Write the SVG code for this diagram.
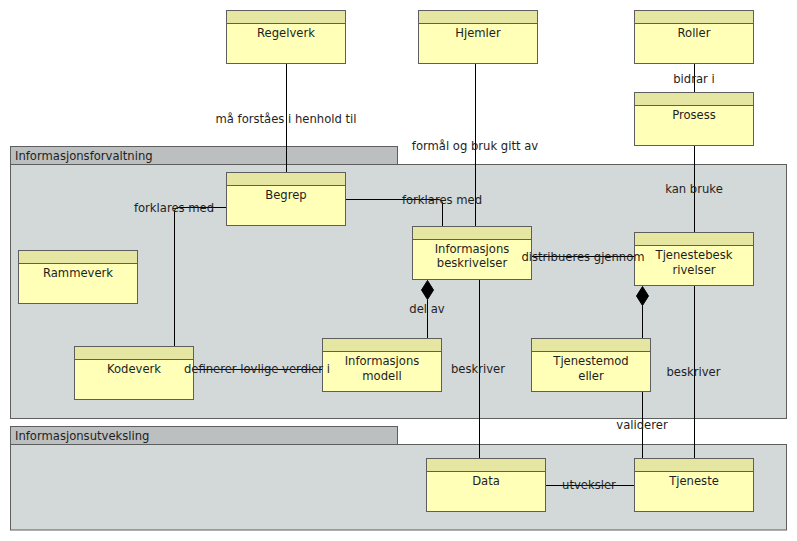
<svg xmlns="http://www.w3.org/2000/svg" width="797" height="541" viewBox="0 0 797 541">
<style>
text{font-family:"DejaVu Sans","Liberation Sans",sans-serif;font-size:11.6px;fill:#1e1e1e}
.c{text-anchor:middle}
.pkh{fill:#bcbfbf;stroke:#5e5e5e;stroke-width:1}
.pkb{fill:#d3d8d8;stroke:#5e5e5e;stroke-width:1}
.nb{fill:#ffffb8;stroke:#5e5e5e;stroke-width:1}
.nh{fill:#e6e6a3;stroke:#5e5e5e;stroke-width:1}
.ln{fill:none;stroke:#000;stroke-width:1}
.dm{fill:#000;stroke:#000;stroke-width:1}
</style>
<rect width="797" height="541" fill="#fff"/>
<g id="pkg-informasjonsforvaltning">
<rect class="pkh" x="10.5" y="146.5" width="387" height="18"/>
<rect class="pkb" x="10.5" y="164.5" width="776" height="254"/>
<text x="15" y="160">Informasjonsforvaltning</text>
</g>
<g id="pkg-informasjonsutveksling">
<rect class="pkh" x="10.5" y="426.5" width="387" height="18"/>
<rect class="pkb" x="10.5" y="444.5" width="776" height="85.5"/>
<text x="15" y="440">Informasjonsutveksling</text>
</g>
<g id="connectors">
<path class="ln" d="M286.5,63.5V172.5"/>
<path class="ln" d="M475.5,63.5V226.5"/>
<path class="ln" d="M694.5,63.5V92.5"/>
<path class="ln" d="M694.5,145.5V232.5"/>
<path class="ln" d="M345.5,199.5H438Q442.5,199.5 442.5,204V226.5"/>
<path class="ln" d="M226.5,207.5H179Q174.5,207.5 174.5,212V346.5"/>
<path class="ln" d="M531.5,256.5H634.5"/>
<polygon class="dm" points="427.5,280.5 433.5,290 427.5,299.5 421.5,290"/>
<path class="ln" d="M427.5,299.5V338.5"/>
<polygon class="dm" points="642.5,286.5 648.5,296 642.5,305.5 636.5,296"/>
<path class="ln" d="M642.5,305.5V338.5"/>
<path class="ln" d="M193.5,369.5H322.5"/>
<path class="ln" d="M479.5,279.5V458.5"/>
<path class="ln" d="M642.5,391.5V458.5"/>
<path class="ln" d="M694.5,285.5V458.5"/>
<path class="ln" d="M545.5,485.5H634.5"/>
</g>
<g id="regelverk">
<rect class="nb" x="226.5" y="10.5" width="119" height="53"/>
<rect class="nh" x="226.5" y="10.5" width="119" height="13"/>
<text class="c" x="286" y="37">Regelverk</text>
</g>
<g id="hjemler">
<rect class="nb" x="418.5" y="10.5" width="119" height="53"/>
<rect class="nh" x="418.5" y="10.5" width="119" height="13"/>
<text class="c" x="478" y="37">Hjemler</text>
</g>
<g id="roller">
<rect class="nb" x="634.5" y="10.5" width="119" height="53"/>
<rect class="nh" x="634.5" y="10.5" width="119" height="13"/>
<text class="c" x="694" y="37">Roller</text>
</g>
<g id="prosess">
<rect class="nb" x="634.5" y="92.5" width="119" height="53"/>
<rect class="nh" x="634.5" y="92.5" width="119" height="13"/>
<text class="c" x="694" y="119">Prosess</text>
</g>
<g id="begrep">
<rect class="nb" x="226.5" y="172.5" width="119" height="53"/>
<rect class="nh" x="226.5" y="172.5" width="119" height="13"/>
<text class="c" x="286" y="198.5">Begrep</text>
</g>
<g id="informasjonsbeskrivelser">
<rect class="nb" x="412.5" y="226.5" width="119" height="53"/>
<rect class="nh" x="412.5" y="226.5" width="119" height="13"/>
<text class="c" x="472" y="252.5">Informasjons</text>
<text class="c" x="472" y="267">beskrivelser</text>
</g>
<g id="tjenestebeskrivelser">
<rect class="nb" x="634.5" y="232.5" width="119" height="53"/>
<rect class="nh" x="634.5" y="232.5" width="119" height="13"/>
<text class="c" x="694" y="259">Tjenestebesk</text>
<text class="c" x="694" y="273.5">rivelser</text>
</g>
<g id="rammeverk">
<rect class="nb" x="18.5" y="250.5" width="119" height="53"/>
<rect class="nh" x="18.5" y="250.5" width="119" height="13"/>
<text class="c" x="78" y="276.5">Rammeverk</text>
</g>
<g id="kodeverk">
<rect class="nb" x="74.5" y="346.5" width="119" height="53"/>
<rect class="nh" x="74.5" y="346.5" width="119" height="13"/>
<text class="c" x="134" y="372.5">Kodeverk</text>
</g>
<g id="informasjonsmodell">
<rect class="nb" x="322.5" y="338.5" width="119" height="53"/>
<rect class="nh" x="322.5" y="338.5" width="119" height="13"/>
<text class="c" x="382" y="365">Informasjons</text>
<text class="c" x="382" y="379.5">modell</text>
</g>
<g id="tjenestemodeller">
<rect class="nb" x="531.5" y="338.5" width="119" height="53"/>
<rect class="nh" x="531.5" y="338.5" width="119" height="13"/>
<text class="c" x="591" y="365">Tjenestemod</text>
<text class="c" x="591" y="379.5">eller</text>
</g>
<g id="data">
<rect class="nb" x="426.5" y="458.5" width="119" height="53"/>
<rect class="nh" x="426.5" y="458.5" width="119" height="13"/>
<text class="c" x="486" y="485">Data</text>
</g>
<g id="tjeneste">
<rect class="nb" x="634.5" y="458.5" width="119" height="53"/>
<rect class="nh" x="634.5" y="458.5" width="119" height="13"/>
<text class="c" x="694" y="485">Tjeneste</text>
</g>
<g id="connector-labels">
<text class="c" x="286" y="123">må forståes i henhold til</text>
<text class="c" x="475" y="150">formål og bruk gitt av</text>
<text class="c" x="694" y="83">bidrar i</text>
<text class="c" x="694" y="193">kan bruke</text>
<text class="c" x="174" y="212">forklares med</text>
<text class="c" x="442" y="204">forklares med</text>
<text class="c" x="583" y="261">distribueres gjennom</text>
<text class="c" x="427" y="313">del av</text>
<text class="c" x="257" y="373">definerer lovlige verdier i</text>
<text class="c" x="478" y="373">beskriver</text>
<text class="c" x="693.5" y="376">beskriver</text>
<text class="c" x="642" y="429">validerer</text>
<text class="c" x="589" y="489">utveksler</text>
</g>
</svg>
